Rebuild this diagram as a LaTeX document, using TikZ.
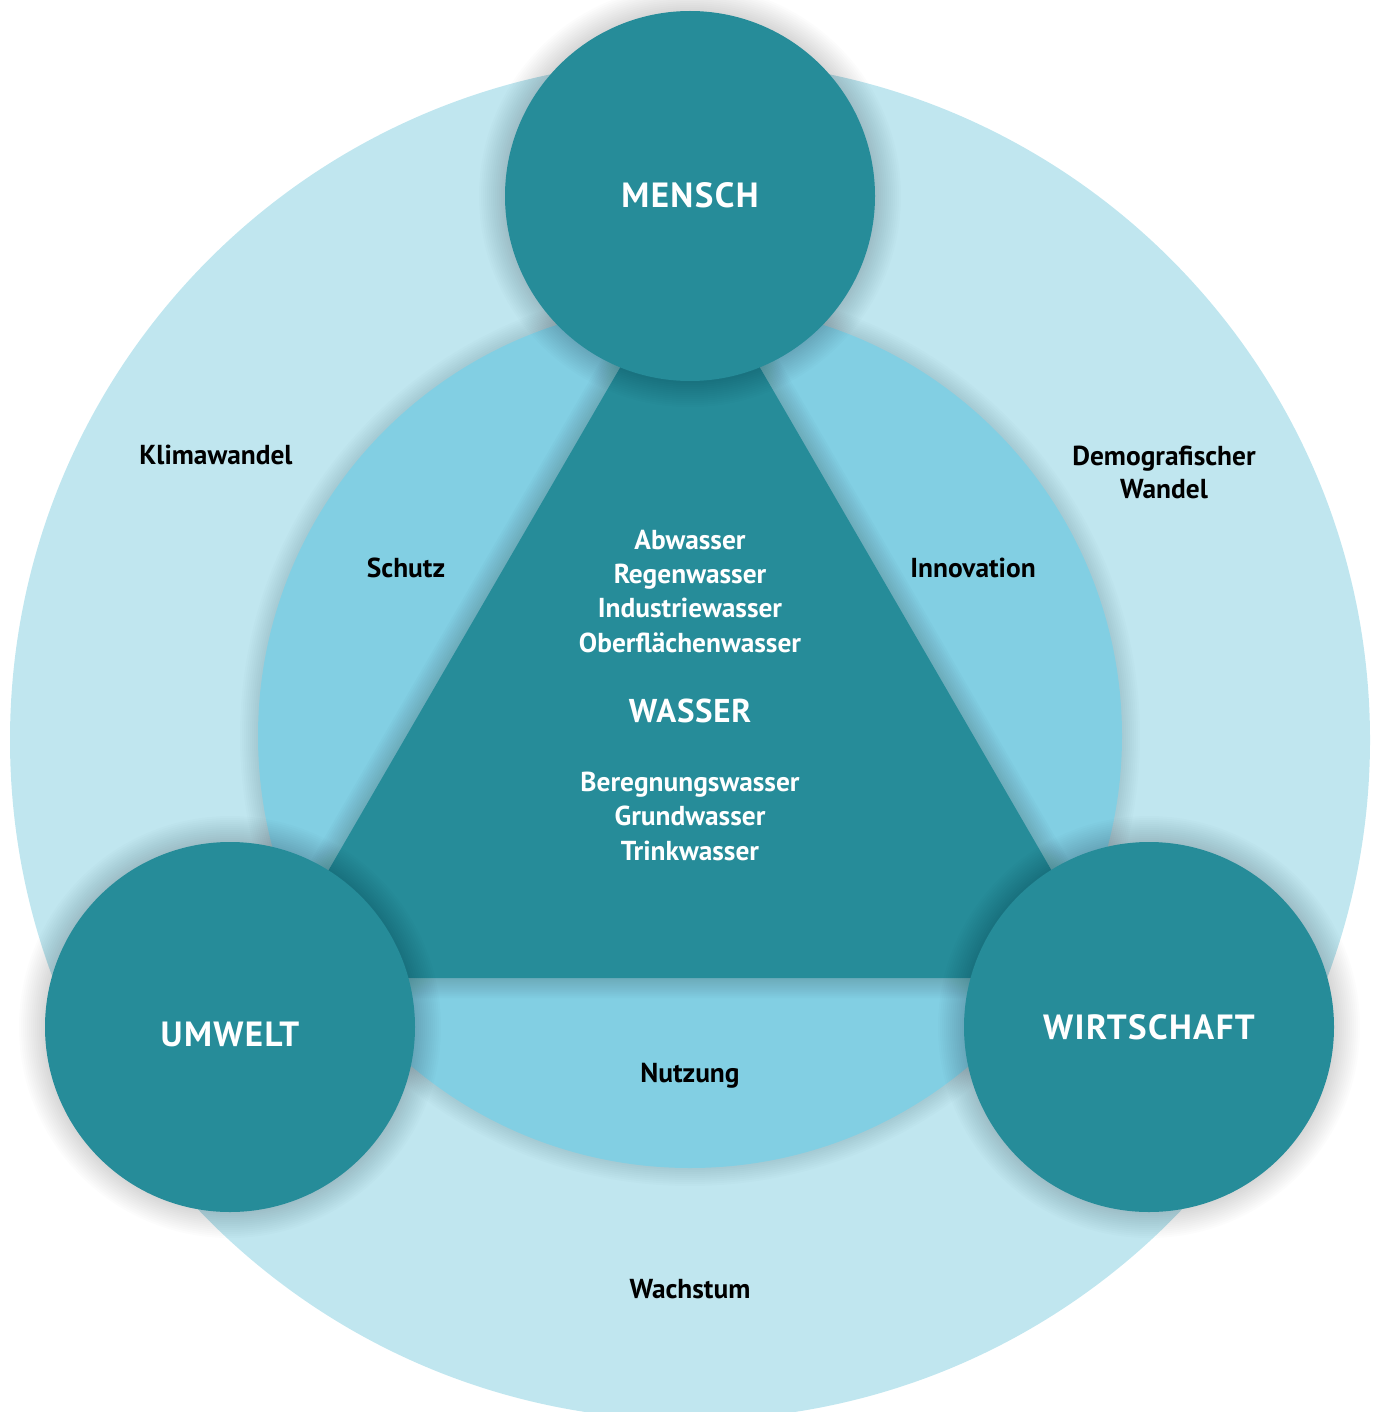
\documentclass[tikz,border=0pt]{standalone}
\usepackage{fontspec}
\setmainfont{PT Sans}
\usetikzlibrary{positioning}

\definecolor{aussenblau}{RGB}{192,230,239}
\definecolor{mittelblau}{RGB}{130,207,227}
\definecolor{petrol}{RGB}{38,140,153}

\newcommand{\titelschrift}{\fontsize{35}{40}\selectfont\bfseries\addfontfeature{LetterSpace=4}}
\newcommand{\labelschrift}{\fontsize{27.4}{34.4}\selectfont\bfseries}

\tikzset{
  saeule/.style={circle, fill=petrol, minimum size=370pt, inner sep=0pt},
  titel/.style={text=white, font=\titelschrift, anchor=base, inner sep=0pt},
  stichwort/.style={text=black, font=\labelschrift, anchor=base, align=center, inner sep=0pt},
  wasserwort/.style={text=white, font=\labelschrift, anchor=base, align=center, inner sep=0pt},
}

\begin{document}
\begin{tikzpicture}[x=1pt,y=-1pt]
\useasboundingbox (0,0) rectangle (1384,1412);
\clip (0,0) rectangle (1384,1412);

% grosser Kreis und mittlerer Kreis
\fill[aussenblau] (690,740) circle (680);
\foreach \w in {4,8,...,36}
  \draw[black,opacity=0.011,line width=\w pt] (690,736) circle (432);
\fill[mittelblau] (690,736) circle (432);

% Dreieck
\coordinate (spitze) at (690,247);
\coordinate (links) at (266,978);
\coordinate (rechts) at (1114,978);
\foreach \w in {4,8,...,40}
  \draw[black,opacity=0.014,line width=\w pt,line join=round] (spitze) -- (links) -- (rechts) -- cycle;
\fill[petrol] (spitze) -- (links) -- (rechts) -- cycle;

% Schatten der drei Kreise
\foreach \p in {(690,196),(230,1027),(1149,1027)}
  \foreach \k in {2,4,...,26}
    \fill[black,opacity=0.01] \p circle (185+\k);

\node[saeule] (mensch) at (690,196) {};
\node[saeule] (umwelt) at (230,1027) {};
\node[saeule] (wirtschaft) at (1149,1027) {};

\node[titel] (menschtxt) at (690,208) {MENSCH};
\node[titel] (umwelttxt) at (230,1046) {UMWELT};
\node[titel] (wirtschafttxt) at (1149,1039) {WIRTSCHAFT};

% Wasser in der Mitte
\node[titel, font=\fontsize{33}{38}\selectfont\bfseries\addfontfeature{LetterSpace=2}] (wasser) at (690,722) {WASSER};
\node[wasserwort] (oben) at (690,549) {Abwasser};
\node[wasserwort] (oben2) at (690,583) {Regenwasser};
\node[wasserwort] (oben3) at (690,617) {Industriewasser};
\node[wasserwort] (oben4) at (690,652) {Oberflächenwasser};
\node[wasserwort] (unten) at (690,791) {Beregnungswasser};
\node[wasserwort] (unten2) at (690,825) {Grundwasser};
\node[wasserwort] (unten3) at (690,860) {Trinkwasser};

% Stichworte
\node[stichwort] (schutz) at (406,577) {Schutz};
\node[stichwort] (innovation) at (973,577) {Innovation};
\node[stichwort] (nutzung) at (690,1082) {Nutzung};
\node[stichwort] (klima) at (216,464) {Klimawandel};
\node[stichwort] (demo) at (1164,465) {Demografischer};
\node[stichwort] (demo2) at (1164,498) {Wandel};
\node[stichwort] (wachstum) at (690,1298) {Wachstum};
\end{tikzpicture}
\end{document}
